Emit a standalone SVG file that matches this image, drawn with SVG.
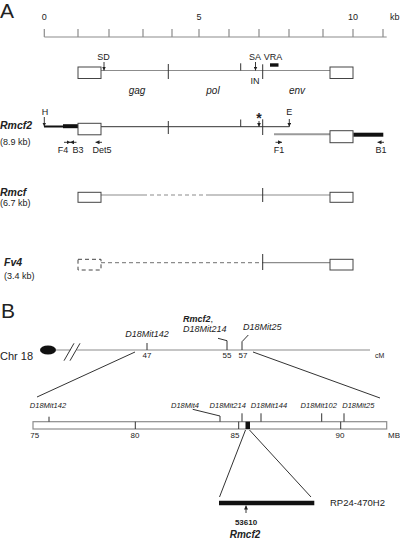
<svg xmlns="http://www.w3.org/2000/svg" width="400" height="542" viewBox="0 0 400 542">
<defs>
<marker id="ah" viewBox="0 0 6 6" refX="6" refY="3" markerWidth="4" markerHeight="4" markerUnits="userSpaceOnUse" orient="auto"><path d="M0,0 L6,3 L0,6 z" fill="#222"/></marker>
</defs>
<style>
text{font-family:"Liberation Sans",Arial,sans-serif;fill:#222}
.g{stroke:#8c8c8c;stroke-width:1.2;fill:none}
.k{stroke:#333;stroke-width:1;fill:none}
.box{fill:#fff;stroke:#444;stroke-width:1}
.s9{font-size:9px}
.s8{font-size:8px}
.s75{font-size:7.5px}
.s10{font-size:10px}
.it{font-style:italic}
.bi{font-weight:bold;font-style:italic}
.arr{stroke:#222;stroke-width:0.9;fill:none;marker-end:url(#ah)}
.mid{text-anchor:middle}
.dash{stroke-dasharray:4 3}
.big{font-size:21px}
</style>
<rect width="400" height="542" fill="#fff"/>

<text class="big" x="0" y="18">A</text>

<g id="ruler">
<line class="g" x1="44.3" y1="37" x2="386.7" y2="37"/>
<path class="g" d="M44.3,29V37M78,29V37M109,29V37M143,29V37M172,29V37M199,29V37M229,29V37M259,29V37M289,29V37M323,29V37M353,29V37M383,29V37"/>
<text class="s9 mid" x="44.3" y="20">0</text>
<text class="s9 mid" x="199" y="20">5</text>
<text class="s9 mid" x="353" y="20">10</text>
<text class="s9" x="390" y="20">kb</text>
</g>

<g id="provirus">
<line class="g" x1="101" y1="70.5" x2="330" y2="70.5"/>
<rect class="box" x="78" y="67" width="23" height="11.5"/>
<rect class="box" x="330" y="67" width="23" height="11.5"/>
<path class="k" d="M168.3,64V79M240.7,63.3V70.5M262.7,64.3V79"/>
<line class="arr" x1="104" y1="62" x2="104" y2="70.5"/>
<line class="arr" x1="255.5" y1="62" x2="255.5" y2="70.5"/>
<rect x="270" y="63.3" width="8.5" height="3.4" fill="#111"/>
<text class="s9 mid" x="103.5" y="60">SD</text>
<text class="s9 mid" x="255" y="60">SA</text>
<text class="s9 mid" x="273" y="60">VRA</text>
<text class="s9 mid" x="255" y="84">IN</text>
<text class="s10 it mid" x="137" y="94">gag</text>
<text class="s10 it mid" x="213" y="94">pol</text>
<text class="s10 it mid" x="297" y="94">env</text>
</g>

<g id="rmcf2">
<text class="bi" x="0" y="129" font-size="10.5">Rmcf2</text>
<text class="s9" x="0" y="145">(8.9 kb)</text>
<line x1="44" y1="126.5" x2="64" y2="126.5" stroke="#111" stroke-width="2"/>
<line x1="63" y1="126.2" x2="78" y2="126.2" stroke="#111" stroke-width="4"/>
<line class="k" x1="101" y1="126.7" x2="289.3" y2="126.7"/>
<rect class="box" x="78" y="123.3" width="23" height="11.5"/>
<path class="k" d="M168.3,121V134M240.7,119.5V126.7M262.7,119.3V135"/>
<line class="arr" x1="44.3" y1="117" x2="44.3" y2="126.5"/>
<line class="arr" x1="259" y1="121" x2="259" y2="126.7"/>
<line class="arr" x1="289.3" y1="119" x2="289.3" y2="126.7"/>
<text class="s9 mid" x="45" y="115">H</text>
<text class="mid" x="259" y="123" font-size="14" font-weight="bold">*</text>
<text class="s9 mid" x="289.3" y="115">E</text>
<line x1="274" y1="134.3" x2="330" y2="134.3" stroke="#9a9a9a" stroke-width="2"/>
<rect class="box" x="330" y="130.7" width="23" height="12"/>
<line x1="353.5" y1="134.7" x2="383.3" y2="134.7" stroke="#111" stroke-width="4"/>
<line class="arr" x1="64" y1="142.3" x2="70.5" y2="142.3"/>
<line class="arr" x1="76.5" y1="142.3" x2="70" y2="142.3"/>
<line class="arr" x1="102" y1="142.3" x2="95.5" y2="142.3"/>
<line class="arr" x1="275.5" y1="142.3" x2="282" y2="142.3"/>
<line class="arr" x1="384" y1="142.3" x2="377.5" y2="142.3"/>
<text class="s9 mid" x="63" y="153">F4</text>
<text class="s9 mid" x="78" y="153">B3</text>
<text class="s9 mid" x="102" y="153">Det5</text>
<text class="s9 mid" x="279" y="153">F1</text>
<text class="s9 mid" x="381" y="153">B1</text>
</g>

<g id="rmcf">
<text class="bi" x="0" y="196" font-size="10.5">Rmcf</text>
<text class="s9" x="0" y="206">(6.7 kb)</text>
<line class="g" x1="101" y1="195" x2="143" y2="195"/>
<line class="g dash" x1="143" y1="195" x2="210" y2="195"/>
<line class="g" x1="210" y1="195" x2="330" y2="195"/>
<rect class="box" x="78" y="192.3" width="23" height="10"/>
<rect class="box" x="330" y="192.3" width="23" height="10"/>
<line class="k" x1="262.7" y1="188" x2="262.7" y2="202"/>
</g>

<g id="fv4">
<text class="bi" x="4" y="266" font-size="10.5">Fv4</text>
<text class="s9" x="4" y="279">(3.4 kb)</text>
<rect class="box dash" x="78" y="259.3" width="23" height="10.7" stroke-dasharray="3 2"/>
<line class="g dash" x1="101" y1="262.7" x2="263" y2="262.7"/>
<line class="g" x1="263" y1="262.7" x2="330" y2="262.7"/>
<line class="k" x1="262.7" y1="254" x2="262.7" y2="270"/>
<rect class="box" x="330" y="259.3" width="23" height="10.7"/>
</g>

<text class="big" x="1" y="318">B</text>

<g id="chr18">
<text x="0" y="360" font-size="11">Chr 18</text>
<line class="g" x1="56" y1="350" x2="370" y2="350"/>
<ellipse cx="48" cy="350" rx="8" ry="4.5" fill="#111"/>
<polygon points="66,360.7 72,360.7 80,343.3 74,343.3" fill="#fff"/>
<path class="k" d="M64,360.7L74,343.3M70,360.7L80,343.3"/>
<path class="k" d="M147,343V350M218,338.3L227,340.7V350M242,350V341.7L248.3,335"/>
<text class="mid" x="147" y="358" font-size="8">47</text>
<text class="mid" x="227" y="358" font-size="8">55</text>
<text class="mid" x="243" y="358" font-size="8">57</text>
<text x="375" y="358" font-size="7">cM</text>
<text class="s9 it mid" x="147" y="336.5">D18Mit142</text>
<text class="s9" x="183" y="321.5"><tspan class="bi">Rmcf2</tspan>,</text>
<text class="s9 it" x="183" y="331.5">D18Mit214</text>
<text class="s9 it" x="243" y="330">D18Mit25</text>
</g>

<g id="connectors">
<line class="k" x1="135" y1="352" x2="37" y2="397"/>
<line class="k" x1="253" y1="352" x2="380" y2="398"/>
<line class="k" x1="245.5" y1="430" x2="219.5" y2="497"/>
<line class="k" x1="249.5" y1="430" x2="311" y2="497"/>
</g>

<g id="mbmap">
<rect x="33" y="421.7" width="353.7" height="7.3" fill="#fff" stroke="#8c8c8c" stroke-width="1.2"/>
<path class="k" d="M135.3,421.7V429M238.7,421.7V429M340.7,421.7V429"/>
<rect x="245.5" y="421.7" width="4.5" height="7.3" fill="#111"/>
<path class="k" d="M49,416.7V421.7M242,413.3V421.7M261,413.3V421.7M321.7,413.3V421.7M344,413.3V421.7M192.7,409.3L220,416V421.7"/>
<text class="s75 it mid" x="48" y="408">D18Mit142</text>
<text class="s75 it mid" x="185" y="408">D18Mit4</text>
<text class="s75 it mid" x="227.7" y="408">D18Mit214</text>
<text class="s75 it mid" x="269" y="408">D18Mit144</text>
<text class="s75 it mid" x="318.7" y="408">D18Mit102</text>
<text class="s75 it mid" x="358.3" y="408">D18Mit25</text>
<text class="s8 mid" x="34.7" y="438">75</text>
<text class="s8 mid" x="135" y="438">80</text>
<text class="s8 mid" x="235" y="438">85</text>
<text class="s8 mid" x="340" y="438">90</text>
<text class="s8" x="388" y="438">MB</text>
</g>

<g id="bac">
<line x1="219" y1="503" x2="314.3" y2="503" stroke="#111" stroke-width="4.3"/>
<text x="330" y="506" font-size="9.5">RP24-470H2</text>
<line class="arr" x1="246" y1="513" x2="246" y2="505.5"/>
<text class="mid" x="246" y="525" font-size="8" font-weight="bold">53610</text>
<text class="bi mid" x="245" y="538" font-size="10">Rmcf2</text>
</g>
</svg>
